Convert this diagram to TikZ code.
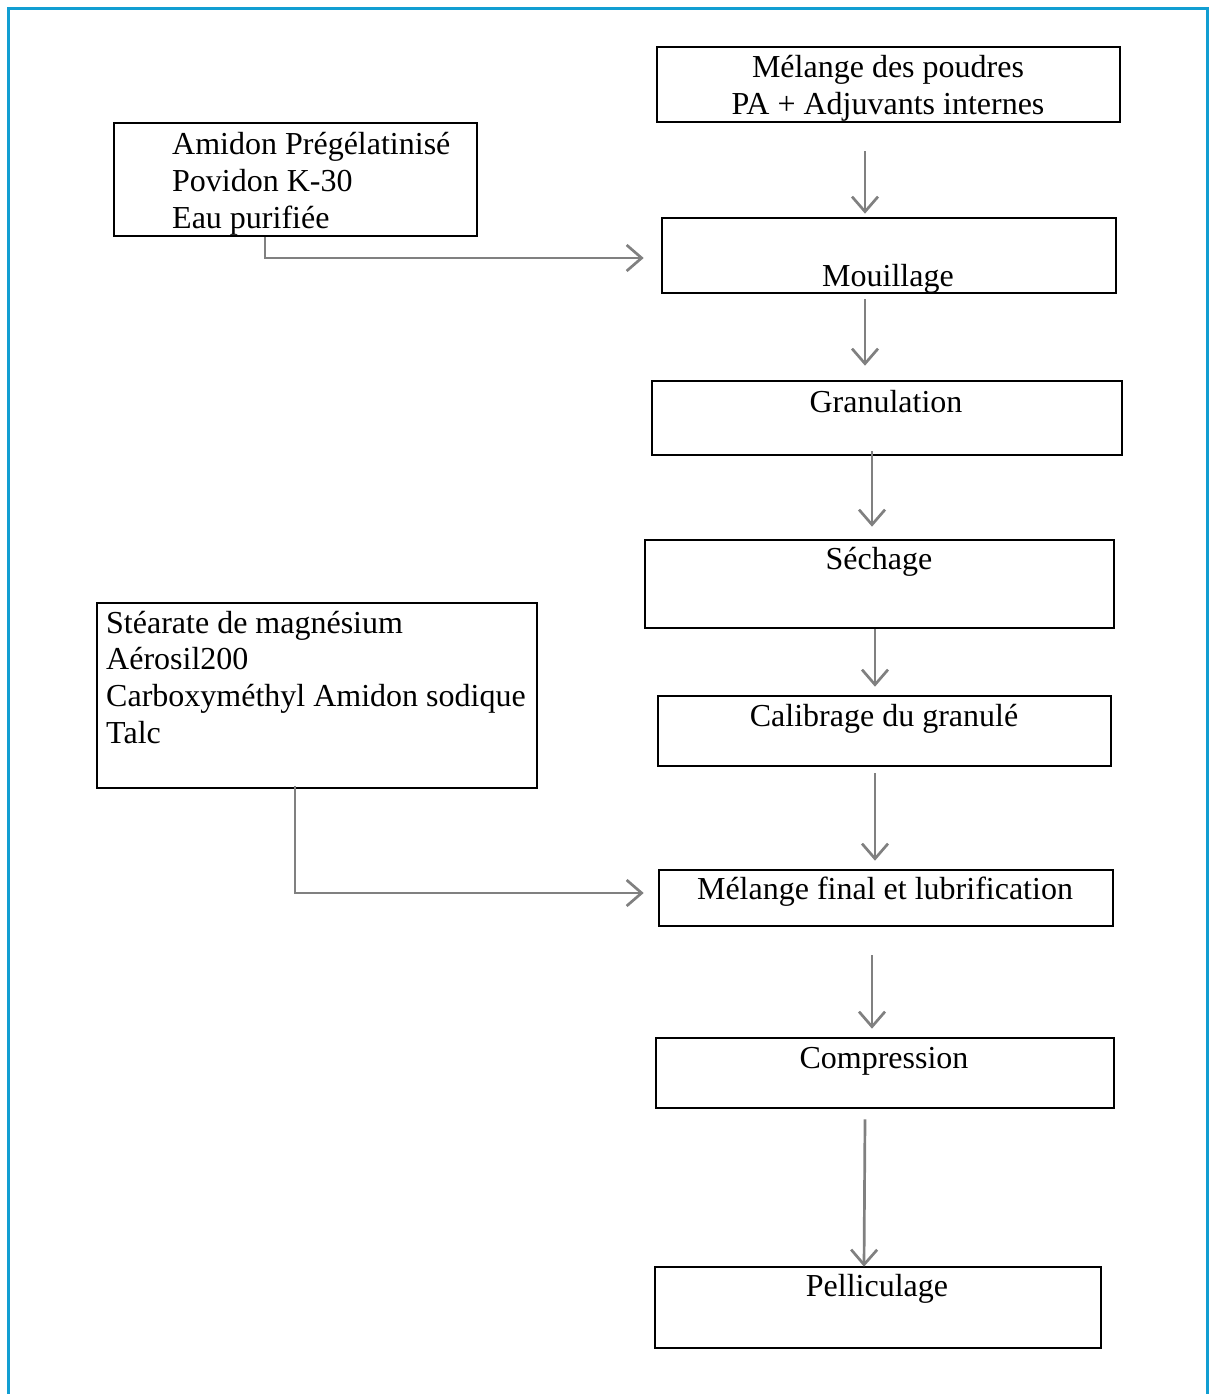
\documentclass[tikz,border=0pt]{standalone}
\usepackage{fontspec}
\setmainfont{Liberation Serif}
\usetikzlibrary{arrows.meta,calc}
\definecolor{frameblue}{RGB}{18,158,210}
\definecolor{arrgray}{RGB}{128,128,128}
\tikzset{
  box/.style={draw=black, line width=2.6pt, inner sep=0pt, rectangle},
  txt/.style={inner sep=0pt, font=\fontsize{32}{37}\selectfont},
  arr/.style={draw=arrgray, line width=2.7pt, -{Straight Barb[length=15pt,width=26pt,line width=2.7pt]}},
}
\newcommand{\bx}[5]{\node[box, minimum width={#4-#2}, minimum height={#5-#3}] (#1) at ({(#2+#4)/2},{(#3+#5)/2}) {};}
\begin{document}
\begin{tikzpicture}[x=1pt,y=-1pt]
\useasboundingbox (0,0) rectangle (1209,1394);
\draw[frameblue, line width=3pt] (8.5,1396) -- (8.5,8.5) -- (1207.5,8.5) -- (1207.5,1396);

\bx{b1}{657}{47}{1120}{122}
\bx{b2}{114}{123}{477}{236}
\bx{b3}{662}{218}{1116}{293}
\bx{b4}{652}{381}{1122}{455}
\bx{b5}{645}{540}{1114}{628}
\bx{b6}{97}{603}{537}{788}
\bx{b7}{658}{696}{1111}{766}
\bx{b8}{659}{870}{1113}{926}
\bx{b9}{656}{1038}{1114}{1108}
\bx{b10}{655}{1267}{1101}{1348}

\node[txt, anchor=base] (t1a) at (888,78) {Mélange des poudres};
\node[txt, anchor=base] (t1b) at (888,115) {PA + Adjuvants internes};
\node[txt, anchor=base west] (t2a) at (172,154) {Amidon Prégélatinisé};
\node[txt, anchor=base west] (t2b) at (172,191) {Povidon K-30};
\node[txt, anchor=base west] (t2c) at (172,228) {Eau purifiée};
\node[txt, anchor=base] (t3) at (888,286) {Mouillage};
\node[txt, anchor=base] (t4) at (886,412) {Granulation};
\node[txt, anchor=base] (t5) at (879,569) {Séchage};
\node[txt, anchor=base west] (t6a) at (106,633) {Stéarate de magnésium};
\node[txt, anchor=base west] (t6b) at (106,669) {Aérosil200};
\node[txt, anchor=base west] (t6c) at (106,706) {Carboxyméthyl Amidon sodique};
\node[txt, anchor=base west] (t6d) at (106,743) {Talc};
\node[txt, anchor=base] (t7) at (884,726) {Calibrage du granulé};
\node[txt, anchor=base] (t8) at (885,899) {Mélange final et lubrification};
\node[txt, anchor=base] (t9) at (884,1068) {Compression};
\node[txt, anchor=base] (t10) at (877,1296) {Pelliculage};

\draw[arr] ($(b1.south)+(-23.5,28)$) -- ($(b3.north)+(-24,-3)$);
\draw[arr] ($(b3.south)+(-24,5)$) -- ($(b4.north)+(-22,-14)$);
\draw[arr] ($(b4.south)+(-15,-5)$) -- ($(b5.north)+(-7.5,-12)$);
\draw[arr] ($(b5.south)+(-4.5,0)$) -- ($(b7.north)+(-9.5,-8)$);
\draw[arr] ($(b7.south)+(-9.5,6)$) -- ($(b8.north)+(-11,-8)$);
\draw[arr] ($(b8.south)+(-14,28)$) -- ($(b9.north)+(-13,-8)$);
\draw[arr] ($(b9.south)+(-20,10)$) -- ($(b10.north)+(-14,1)$);
\draw[arr] ($(b2.south)+(-30.5,0)$) |- ($(b3.west)+(-17,2.5)$);
\draw[arr] ($(b6.south)+(-22,-3)$) |- ($(b8.west)+(-14,-5)$);
\end{tikzpicture}
\end{document}
